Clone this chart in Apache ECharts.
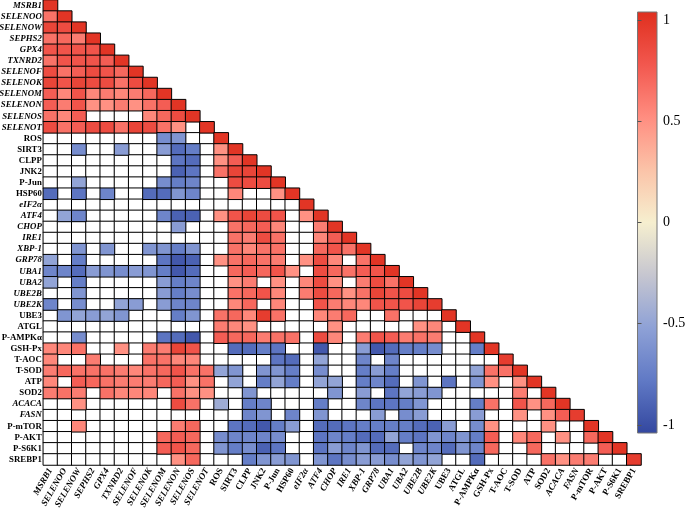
<!DOCTYPE html>
<html>
<head>
<meta charset="utf-8">
<style>html,body{margin:0;padding:0;background:#fff}#c{width:685px;height:508px}</style>
<script src="https://cdn.jsdelivr.net/npm/echarts@6/dist/echarts.min.js"></script>
</head>
<body>
<div id="c"></div>
<script>
const _ = null;
const names = ['MSRB1','SELENOO','SELENOW','SEPHS2','GPX4','TXNRD2','SELENOF','SELENOK','SELENOM','SELENON','SELENOS','SELENOT','ROS','SIRT3','CLPP','JNK2','P-Jun','HSP60','eIF2α','ATF4','CHOP','IRE1','XBP-1','GRP78','UBA1','UBA2','UBE2B','UBE2K','UBE3','ATGL','P-AMPKα','GSH-Px','T-AOC','T-SOD','ATP','SOD2','ACACA','FASN','P-mTOR','P-AKT','P-S6K1','SREBP1'];
const italicNames = ['MSRB1','SELENOO','SELENOW','SEPHS2','GPX4','TXNRD2','SELENOF','SELENOK','SELENOM','SELENON','SELENOS','SELENOT','eIF2α','ATF4','CHOP','IRE1','XBP-1','GRP78','UBA1','UBA2','UBE2B','UBE2K','ACACA','FASN'];
const barTicks = [1,0.5,0,-0.5,-1];
const paletteStops = ['#33479f','#6079c5','#8ea1d6','#c6c6d0','#f6efcf','#fbc3a8','#ff8d80','#f2574e','#df2f1e'];
const r00=[1];
const r01=[.65,1];
const r02=[.9,.85,1];
const r03=[.65,.7,.6,1];
const r04=[.8,.8,.8,.8,1];
const r05=[.65,.8,.8,.8,.75,1];
const r06=[.85,.65,.75,.85,.8,.7,1];
const r07=[.9,.8,.9,.85,.85,.65,.85,1];
const r08=[.75,.55,.8,.55,.6,.55,.6,.7,1];
const r09=[.75,.6,.8,.5,.5,.6,.5,.65,.75,1];
const r10=[.65,.55,.75,_,_,_,_,.55,.7,.85,1];
const r11=[.85,.65,.75,.85,.85,.65,.9,.85,.65,.5,_,1];
const r12=[_,_,_,_,_,_,_,_,-.65,-.6,_,_,1];
const r13=[_,_,-.65,_,_,-.55,_,_,-.55,-.85,-.75,_,.5,1];
const r14=[_,_,_,_,_,_,_,_,_,-.8,-.85,_,.5,.75,1];
const r15=[_,_,_,_,_,_,_,_,_,-.9,-.8,_,.65,.9,.9,1];
const r16=[_,_,-.5,_,_,_,_,_,-.65,-.75,-.7,_,_,.85,.85,.85,1];
const r17=[-.85,_,-.8,_,-.7,_,_,-.85,-.85,-.6,-.7,_,_,.55,_,_,.5,1];
const r18=[_,_,_,_,_,_,_,_,_,_,_,_,_,_,_,_,_,_,1];
const r19=[_,-.5,-.7,_,_,_,_,_,-.7,-.9,-.9,_,.5,.8,.9,.85,.8,_,.5,1];
const r20=[_,_,_,_,_,_,_,_,_,-.55,_,_,_,.65,.7,.75,.55,_,_,.6,1];
const r21=[_,_,_,_,_,_,_,_,_,_,_,_,_,.65,.6,.85,.65,_,_,.55,.75,1];
const r22=[_,_,-.6,_,-.6,_,_,-.6,-.6,-.75,-.6,_,_,.65,.55,.65,.65,_,_,.7,.8,.65,1];
const r23=[-.5,_,-.75,_,_,_,_,_,-.8,-.95,-.9,_,.5,.65,.7,.65,.6,_,.5,.85,.55,_,.65,1];
const r24=[-.7,-.7,-.85,-.55,-.6,-.65,-.55,-.6,-.75,-.95,-.85,_,_,.7,.75,.7,.8,.5,_,.85,.7,.65,.75,.8,1];
const r25=[-.5,_,-.75,_,_,_,_,_,-.55,-.75,-.7,_,_,.5,.6,_,.5,_,.55,.85,.5,_,.6,.85,.65,1];
const r26=[_,_,-.6,_,_,_,_,_,-.55,-.75,-.65,_,_,.65,.7,.8,.55,_,.6,.85,.7,.5,.65,.9,.8,.85,1];
const r27=[-.7,_,-.65,_,_,-.5,-.55,_,-.55,-.7,-.7,_,_,.55,.7,_,.55,_,_,.8,.6,.55,.55,.8,.8,.8,.9,.95];
const r28=[_,-.6,-.5,-.55,-.5,-.6,_,_,_,-.75,-.6,_,.65,.7,.55,.95,.65,_,_,.55,.6,.7,_,_,.65,_,_,_,1];
const r29=[_,_,_,_,_,_,_,_,_,_,_,_,.6,.55,.5,_,_,_,_,_,.5,_,_,_,_,_,.5,.55,_,1];
const r30=[_,_,-.65,_,_,_,_,_,-.8,-.85,-.95,_,.75,.7,.7,.6,.65,.65,_,.85,.55,_,.6,.8,.75,.6,.65,.6,_,_,1];
const r31=[.55,.55,.65,_,_,.5,_,.6,.6,.9,.8,_,_,-.85,-.85,-.75,-.8,_,_,-.95,_,_,-.55,-.95,-.85,-.75,-.75,-.65,_,_,-.75,1];
const r32=[.55,_,_,.6,_,_,_,.65,.65,.55,.55,_,_,_,_,_,-.8,-.85,_,-.5,_,_,-.7,_,-.7,_,_,_,_,_,_,_,.95];
const r33=[.6,.7,.65,.65,.65,.6,.55,.65,.7,.8,.65,.65,-.5,-.6,_,-.6,-.6,-.75,_,-.65,_,_,-.75,-.55,-.75,_,_,_,_,_,-.5,.65,.65,1];
const r34=[.55,_,.75,.7,.65,.6,.6,.6,.7,.75,.5,.65,_,-.5,_,-.75,-.5,-.75,_,-.5,-.5,_,-.75,-.7,-.85,_,-.6,_,-.8,_,-.6,.5,_,.5,1];
const r35=[.6,.65,.6,_,.65,.55,.55,.55,_,.65,.5,.5,_,_,-.6,_,_,_,_,_,-.6,_,-.55,_,-.8,-.5,-.55,-.6,_,_,_,_,_,.6,_,1];
const r36=[_,_,.5,_,_,_,_,_,_,.85,.65,_,-.45,_,-.75,-.7,_,_,_,-.75,_,_,-.7,-.8,-.8,-.75,-.6,_,_,_,-.75,.65,_,.8,.5,.7,1];
const r37=[_,_,_,_,_,_,_,_,_,_,_,_,_,_,-.7,-.6,_,-.7,_,-.6,_,_,_,-.55,_,-.65,-.55,_,_,_,-.55,_,_,.5,_,.5,.75,.95];
const r38=[_,_,.55,_,_,_,_,_,_,.6,.7,_,_,-.8,-.85,-.95,-.75,-.55,_,-.85,-.85,-.8,-.75,-.75,-.75,-.75,-.85,-.9,-.55,_,-.65,.5,_,_,_,.5,_,_,1];
const r39=[_,_,_,_,_,_,_,_,.7,.75,.7,_,-.65,-.7,-.7,-.7,-.65,_,_,-.8,-.7,-.75,-.85,-.85,-.5,-.75,-.8,-.6,-.7,-.6,-.75,.75,_,.55,.7,_,.5,_,.7,1];
const r40=[_,_,_,_,_,_,_,_,.75,.8,.7,_,-.6,-.75,-.65,-.9,-.8,_,_,-.8,-.55,-.7,-.6,-.85,-.85,_,-.7,-.7,-.85,-.6,-.7,.7,_,_,.7,_,_,_,_,.75,1];
const r41=[_,_,_,_,_,_,_,_,_,.5,.7,_,_,_,-.75,-.6,-.55,-.6,_,-.6,-.8,-.65,-.55,-.55,-.65,-.5,-.6,-.5,_,_,-.85,_,_,_,_,.65,.5,.6,.6,_,_,.95];
const rows=[r00,r01,r02,r03,r04,r05,r06,r07,r08,r09,r10,r11,r12,r13,r14,r15,r16,r17,r18,r19,r20,r21,r22,r23,r24,r25,r26,r27,r28,r29,r30,r31,r32,r33,r34,r35,r36,r37,r38,r39,r40,r41];

const cells=[], blanks=[];
rows.forEach((row,y)=>row.forEach((v,x)=>{ if(v===null) blanks.push([x,y,0]); else cells.push([x,y,v]); }));

const axisData = () => names.map(n=>({value:n,textStyle:{fontStyle:italicNames.includes(n)?'italic':'normal'}}));
const FONT='"Liberation Serif","Times New Roman",serif';
const cellStyle={borderColor:'#000',borderWidth:1};

const chart=echarts.init(document.getElementById('c'),null,{renderer:'canvas'});
chart.setOption({
  animation:false,
  backgroundColor:'#fff',
  grid:[
    {left:43.3,right:44,top:0,bottom:43,containLabel:false,outerBoundsMode:'none'},
    {left:637.5,width:19.5,top:12,height:421,show:true,borderColor:'#777',borderWidth:1,outerBoundsMode:'none',
     backgroundColor:new echarts.graphic.LinearGradient(0,1,0,0,paletteStops.map((c,i)=>({offset:i/(paletteStops.length-1),color:c})))}
  ],
  xAxis:[
    {type:'category',gridIndex:0,data:axisData(),axisLine:{show:false},axisTick:{show:false},splitLine:{show:false},
     axisLabel:{interval:0,rotate:60,margin:4,fontFamily:FONT,fontWeight:'bold',fontSize:9,color:'#000'}},
    {type:'value',gridIndex:1,min:0,max:1,show:false}
  ],
  yAxis:[
    {type:'category',gridIndex:0,inverse:true,data:axisData(),axisLine:{show:false},axisTick:{show:false},splitLine:{show:false},
     axisLabel:{interval:0,margin:1.5,fontFamily:FONT,fontWeight:'bold',fontSize:8.8,color:'#000'}},
    {type:'value',gridIndex:1,position:'right',min:-1.04,max:1.04,
     axisLine:{show:false},splitLine:{show:false},
     axisTick:{show:true,inside:false,length:4,lineStyle:{color:'#555'},customValues:barTicks},
     axisLabel:{margin:6,fontFamily:FONT,fontSize:14,color:'#000',customValues:barTicks,formatter:v=>String(v)}}
  ],
  visualMap:[
    {show:false,seriesIndex:0,min:0,max:1,inRange:{color:['#fff','#fff']}},
    {show:false,seriesIndex:1,min:-1.04,max:1.04,inRange:{color:paletteStops}}
  ],
  series:[
    {type:'heatmap',name:'blank',xAxisIndex:0,yAxisIndex:0,data:blanks,itemStyle:cellStyle,progressive:0,emphasis:{disabled:true},silent:true},
    {type:'heatmap',name:'correlation',xAxisIndex:0,yAxisIndex:0,data:cells,itemStyle:cellStyle,progressive:0,emphasis:{disabled:true},silent:true}
  ]
});
</script>
</body>
</html>
